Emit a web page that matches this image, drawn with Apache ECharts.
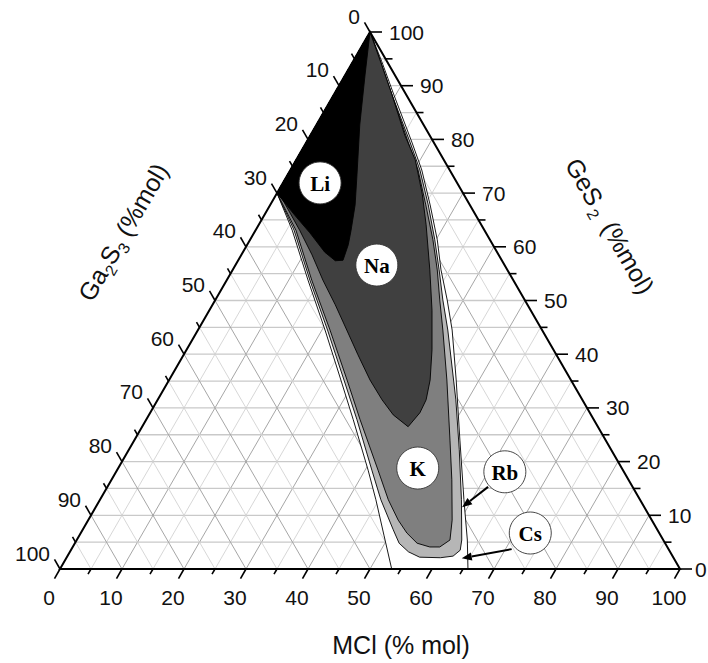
<!DOCTYPE html>
<html><head><meta charset="utf-8">
<script src="https://cdn.jsdelivr.net/npm/echarts@6/dist/echarts.min.js"></script>
<style>html,body{margin:0;padding:0;background:#fff}#c{width:708px;height:663px}</style>
</head><body><div id="c"></div>
<script>
// ---- data: compositions as [MCl %, GeS2 %]  (Ga2S3 = 100 - MCl - GeS2)
const tickValues = [0,5,10,15,20,25,30,35,40,45,50,55,60,65,70,75,80,85,90,95,100];
const gridValues = [5,10,15,20,25,30,35,40,45,50,55,60,65,70,75,80,85,90,95];
const regionNames = ['Cs','Rb','K','Na','Li'];
const csRegion = [[0,100],[0,70],[5.9,63.1],[13.1,53.8],[20.5,44.5],[27.7,35.2],[33.4,27.8],[40.5,18.4],[44.5,12.9],[49.1,6.3],[53.5,0],[65.8,0],[63.0,5.4],[58.7,12.9],[52.5,24.0],[46.3,35.2],[41.0,44.5],[37.4,50.1],[33.6,55.7],[30.2,61.3],[25.8,67.8],[21.2,74.3],[17.0,79.5],[9.7,88.3],[4.4,94.8]];
const rbRegion = [[0,100],[0,70],[6.2,63.1],[13.4,53.8],[20.9,44.5],[28.2,35.2],[34.0,27.8],[41.1,18.4],[45.3,12.9],[50.1,7.3],[52.3,4.8],[54.6,3.2],[56.9,2.2],[60.3,2.1],[62.2,2.4],[62.8,3.5],[62.1,5.4],[58.3,12.9],[53.3,22.2],[48.1,31.5],[40.3,44.5],[36.7,50.1],[33.3,55.7],[29.8,61.3],[25.5,67.8],[20.9,74.3],[16.7,79.5],[9.4,88.3],[4.2,94.8]];
const kRegion = [[0,100],[0,70],[6.5,63.1],[13.7,53.8],[21.3,44.5],[28.7,35.2],[34.5,27.8],[42.1,18.4],[46.5,12.9],[50.0,9.1],[52.6,6.7],[55.2,4.8],[57.6,4.1],[59.2,4.1],[60.2,5.4],[58.7,9.1],[54.9,16.6],[50.9,24.0],[44.8,35.2],[39.5,44.5],[36.2,50.1],[33.0,55.7],[29.5,61.3],[25.1,67.8],[20.6,74.3],[16.4,79.5],[9.4,88.3],[4.2,94.8]];
const naRegion = [[0,100],[0,70],[1.6,68.7],[7.1,63.1],[11.4,58.5],[15.5,53.8],[19.8,49.2],[24.0,44.5],[28.1,39.9],[32.4,35.2],[36.2,31.5],[39.4,28.7],[42.9,26.5],[43.5,29.1],[43.3,31.5],[42.1,35.2],[39.6,40.8],[35.9,48.2],[31.8,55.7],[27.0,64.1],[23.6,69.7],[19.2,76.2],[15.2,80.8],[9.4,88.3],[4.2,94.8]];
const liRegion = [[0,100],[0,70],[4.9,65.9],[9.0,62.6],[13.2,59.0],[15.7,57.4],[16.9,57.5],[16.3,60.4],[15.4,63.1],[13.7,67.8],[11.2,73.4],[7.0,82.7],[3.2,92.0]];
const labelSpots = [[6.0,71.9],[22.8,56.6],[48.3,18.8],[62.7,18.1],[72.5,6.7]]; // Li, Na, K, Rb, Cs
const labelTexts = ['Li','Na','K','Rb','Cs'];
const arrowFrom = [[61.4,15.3],[71.0,3.7]]; // Rb, Cs
const arrowTo = [[59.1,11.5],[63.8,2.0]];

// ---- styles
const regionPts = [csRegion, rbRegion, kRegion, naRegion, liRegion];
const regionFill = ['#ffffff','#b6b6b6','#7f7f7f','#404040','#000000'];
const SQ = Math.sqrt(3)/2;
const FONT = '"Liberation Sans", Arial, sans-serif';
function tern(m, g){ return [m + g/2, g*SQ]; }

const chart = echarts.init(document.getElementById('c'), null, {renderer:'svg'});

const option = {
  animation:false,
  backgroundColor:'#fff',
  grid:{left:60, top:32, width:620, height:537},
  xAxis:{type:'value', min:0, max:100, show:false},
  yAxis:{type:'value', min:0, max:100*SQ, show:false},
  series:[
    { // grid lines
      type:'custom', z:1, silent:true,
      data: gridValues.map(v=>[v,0]),
      renderItem:(params, api)=>{
        const v = gridValues[params.dataIndex];
        const major = v % 10 === 0;
        const sl = {stroke: major ? '#9c9c9c' : '#d2d2d2', lineWidth: 0.9, fill:null};
        const a1 = api.coord(tern(0,v)), a2 = api.coord(tern(100-v,v));
        const b1 = api.coord(tern(v,0)), b2 = api.coord(tern(v,100-v));
        const c1 = api.coord(tern(100-v,0)), c2 = api.coord(tern(0,100-v));
        return {type:'group', children:[
          {type:'line', shape:{x1:a1[0],y1:a1[1],x2:a2[0],y2:a2[1]}, style:{stroke:'#c9c9c9', lineWidth:1.3}},
          {type:'line', shape:{x1:b1[0],y1:b1[1],x2:b2[0],y2:b2[1]}, style:sl},
          {type:'line', shape:{x1:c1[0],y1:c1[1],x2:c2[0],y2:c2[1]}, style:sl}
        ]};
      }
    },
    { // glass-forming regions
      type:'custom', z:2, silent:true,
      data: regionNames.map((n,i)=>[i,0]),
      renderItem:(params, api)=>{
        const i = params.dataIndex;
        const pts = regionPts[i].map(p=>api.coord(tern(p[0],p[1])));
        return {type:'polygon', shape:{points:pts}, style:{fill:regionFill[i], stroke:'#000', lineWidth:0.9, lineJoin:'round'}};
      }
    },
    { // frame, ticks, tick labels
      type:'custom', z:3, silent:true,
      data: tickValues.map(v=>[v,0]),
      renderItem:(params, api)=>{
        const v = tickValues[params.dataIndex];
        const major = v % 10 === 0;
        const L = major ? 11 : 6;
        const ch = [];
        const ts = {stroke:'#000', lineWidth:1.6};
        const lab = {fill:'#111', fontSize:21, fontFamily:FONT};
        // bottom axis (MCl)
        const b = api.coord(tern(v,0));
        ch.push({type:'line', shape:{x1:b[0],y1:b[1],x2:b[0]-0.5*L,y2:b[1]+SQ*L}, style:ts});
        if (major) ch.push({type:'text', style:Object.assign({text:String(v), x:b[0]-11, y:b[1]+28, align:'center', verticalAlign:'middle'}, lab)});
        // left axis (Ga2S3)
        const l = api.coord(tern(0,100-v));
        ch.push({type:'line', shape:{x1:l[0],y1:l[1],x2:l[0]-0.5*L,y2:l[1]-SQ*L}, style:ts});
        if (major) ch.push({type:'text', style:Object.assign({text:String(v), x:l[0]-10, y:l[1]-16, align:'right', verticalAlign:'middle'}, lab)});
        // right axis (GeS2)
        const r = api.coord(tern(100-v,v));
        ch.push({type:'line', shape:{x1:r[0],y1:r[1],x2:r[0]+(major?12:7),y2:r[1]}, style:ts});
        if (major) ch.push({type:'text', style:Object.assign({text:String(v), x:r[0]+(v===0?15:19), y:r[1], align:'left', verticalAlign:'middle'}, lab)});
        if (params.dataIndex === 0) {
          const p0 = api.coord(tern(0,0)), p1 = api.coord(tern(100,0)), p2 = api.coord(tern(0,100));
          ch.push({type:'polygon', shape:{points:[p0,p1,p2]}, style:{fill:null, stroke:'#000', lineWidth:2, lineJoin:'miter'}});
        }
        return {type:'group', children:ch};
      }
    },
    { // arrows
      type:'custom', z:4, silent:true,
      data: arrowFrom.map((p,i)=>[i,0]),
      renderItem:(params, api)=>{
        const i = params.dataIndex;
        const s = api.coord(tern(arrowFrom[i][0],arrowFrom[i][1]));
        const e = api.coord(tern(arrowTo[i][0],arrowTo[i][1]));
        const dx = e[0]-s[0], dy = e[1]-s[1], len = Math.hypot(dx,dy);
        const ux = dx/len, uy = dy/len, hl = 10, hw = 4;
        const bx = e[0]-ux*hl, by = e[1]-uy*hl;
        return {type:'group', children:[
          {type:'line', shape:{x1:s[0],y1:s[1],x2:bx,y2:by}, style:{stroke:'#000', lineWidth:2}},
          {type:'polygon', shape:{points:[[e[0],e[1]],[bx-uy*hw,by+ux*hw],[bx+uy*hw,by-ux*hw]]}, style:{fill:'#000'}}
        ]};
      }
    },
    { // region labels
      type:'custom', z:5, silent:true,
      data: labelSpots.map((p,i)=>[i,0]),
      renderItem:(params, api)=>{
        const i = params.dataIndex;
        const c = api.coord(tern(labelSpots[i][0],labelSpots[i][1]));
        return {type:'group', children:[
          {type:'circle', shape:{cx:c[0], cy:c[1], r:21}, style:{fill:'#fff', stroke:'#333', lineWidth:0.9}},
          {type:'text', style:{text:labelTexts[i], x:c[0], y:c[1]+1, align:'center', verticalAlign:'middle', fontSize:21, fontWeight:'bold', fontFamily:'"Liberation Serif", "Times New Roman", serif', fill:'#000'}}
        ]};
      }
    }
  ],
  graphic:[
    {type:'text', x:401, y:645, style:{text:'MCl (% mol)', align:'center', verticalAlign:'middle', fontSize:25, fontFamily:FONT, fill:'#111'}},
    {type:'text', x:123, y:232, rotation:Math.PI/3, style:{text:'Ga{s|2}S{s|3} (%mol)', align:'center', verticalAlign:'middle', fontSize:25, fontFamily:FONT, fill:'#111', lineHeight:34,
      rich:{s:{fontSize:16, fontFamily:FONT, fill:'#111', verticalAlign:'bottom', lineHeight:34}}}},
    {type:'text', x:610, y:226, rotation:-Math.PI/3, style:{text:'GeS{s|2} (%mol)', align:'center', verticalAlign:'middle', fontSize:25, fontFamily:FONT, fill:'#111', lineHeight:34,
      rich:{s:{fontSize:16, fontFamily:FONT, fill:'#111', verticalAlign:'bottom', lineHeight:34, padding:[0,4,0,3]}}}}
  ]
};
chart.setOption(option);
</script>
</body></html>
